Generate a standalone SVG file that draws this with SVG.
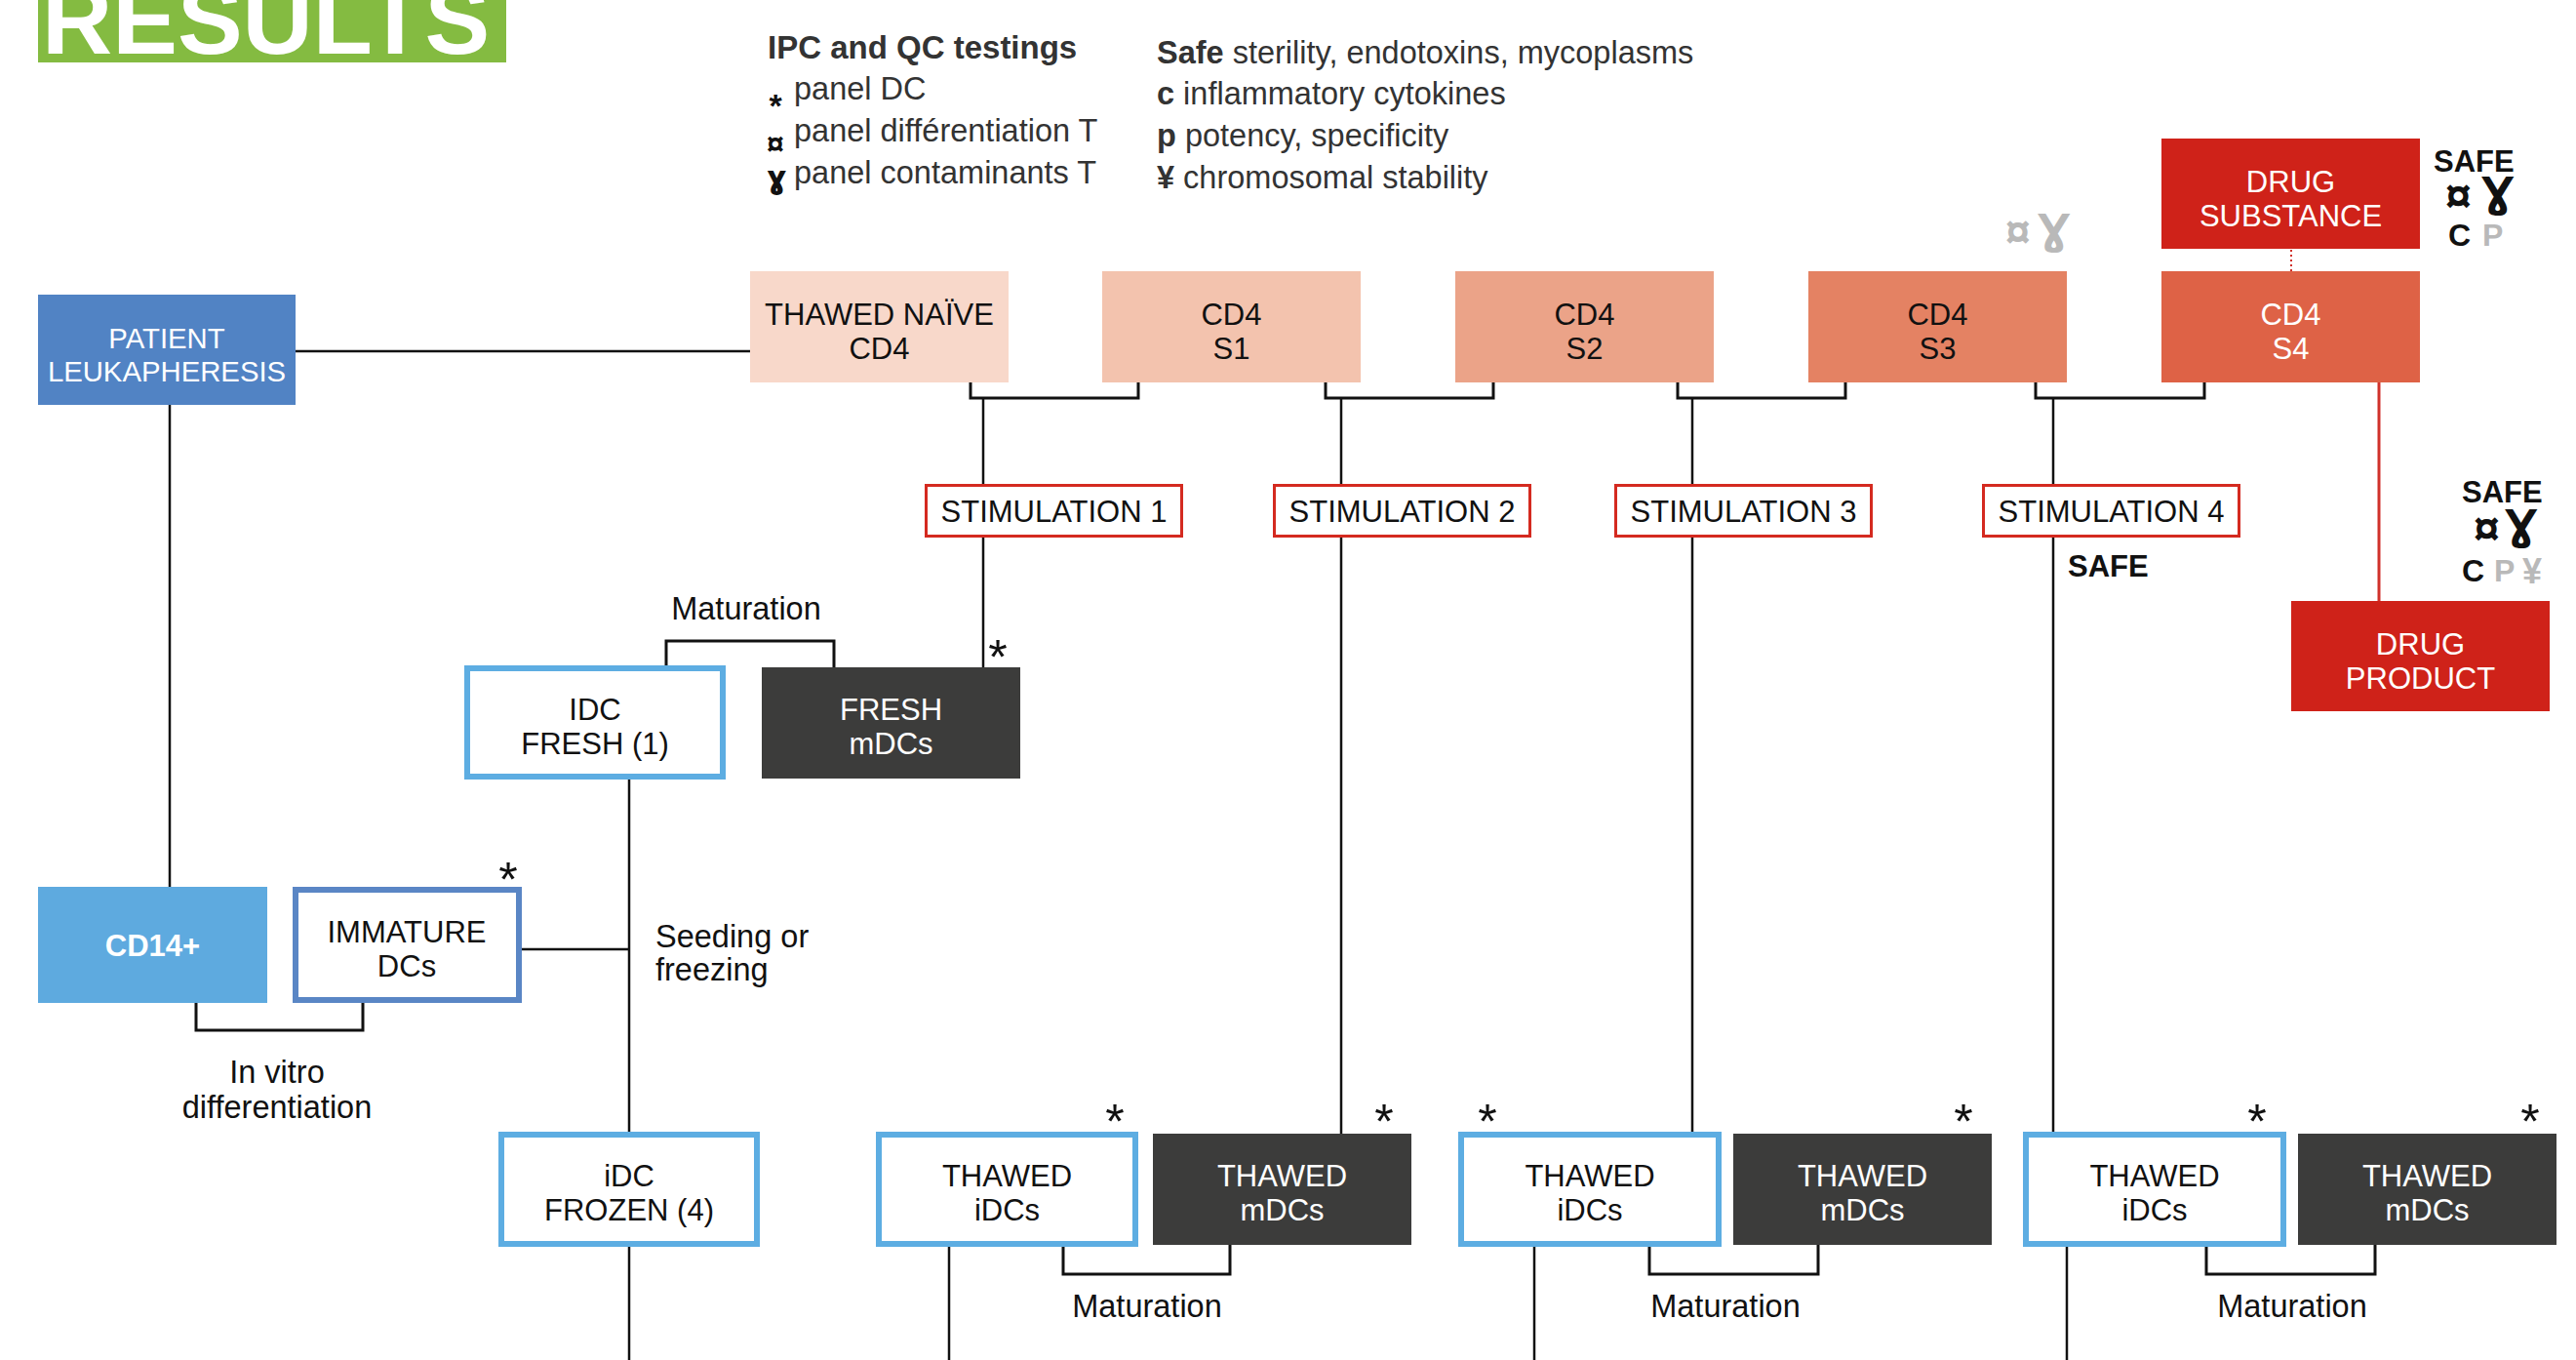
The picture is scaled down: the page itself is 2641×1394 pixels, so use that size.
<svg xmlns="http://www.w3.org/2000/svg" width="2641" height="1394" viewBox="0 0 2641 1394">
<style>
text{font-family:"Liberation Sans",Arial,Helvetica,sans-serif}
.t{font-size:31px;text-anchor:middle;fill:#111}
.w{fill:#fff}
.b{font-weight:bold}
.lg{font-size:32.5px;fill:#333}
.lab{font-size:32.5px;fill:#111}
.ml{font-size:32.5px;text-anchor:middle;fill:#111}
.ast{font-size:50px;text-anchor:middle;fill:#111}
.sym{font-family:"DejaVu Sans","Liberation Sans",sans-serif;font-weight:bold}
.gray{fill:#b9b9b9}
.blk{fill:#111}
.blue{fill:#fff;stroke:#5dade2;stroke-width:6}
.dark{fill:#3c3c3b}
.stim{fill:#fff;stroke:#d42a20;stroke-width:3}
.red{fill:#cf2219}
.ln{fill:none;stroke:#111;stroke-width:2.5}
.br{fill:none;stroke:#111;stroke-width:3}
</style>

<g id="title">
<rect x="39" y="0" width="480" height="64" fill="#84bb41"/>
<text x="43" y="55" font-size="100" font-weight="bold" fill="#fff">RESULTS</text>
</g>

<g id="legend">
<text x="787" y="60" class="lg b" style="font-size:33px">IPC and QC testings</text>
<text x="795" y="120" class="blk b" font-size="34" text-anchor="middle">*</text>
<text x="814" y="102" class="lg">panel DC</text>
<text x="786" y="158" class="blk b" font-size="32">¤</text>
<text x="814" y="145" class="lg">panel différentiation T</text>
<text x="786" y="193" class="blk sym" font-size="32">ɣ</text>
<text x="814" y="188" class="lg">panel contaminants T</text>
<text x="1186" y="65" class="lg"><tspan font-weight="bold">Safe</tspan> sterility, endotoxins, mycoplasms</text>
<text x="1186" y="107" class="lg"><tspan font-weight="bold">c</tspan> inflammatory cytokines</text>
<text x="1186" y="150" class="lg"><tspan font-weight="bold">p</tspan> potency, specificity</text>
<text x="1186" y="193" class="lg"><tspan font-weight="bold">¥</tspan> chromosomal stability</text>
</g>

<g id="connectors">
<path class="ln" d="M303,360 H769"/>
<path class="ln" d="M174,415 V909"/>
<path class="br" d="M995,392 V408 H1167 V392"/>
<path class="ln" d="M1008,408 V496 M1008,551 V686"/>
<path class="br" d="M1359,392 V408 H1531 V392"/>
<path class="ln" d="M1375,408 V496 M1375,551 V1162"/>
<path class="br" d="M1720,392 V408 H1892 V392"/>
<path class="ln" d="M1735,408 V496 M1735,551 V1160"/>
<path class="br" d="M2087,392 V408 H2260 V392"/>
<path class="ln" d="M2105,408 V496 M2105,551 V1160"/>
<path d="M2439,392 V616" fill="none" stroke="#d0312b" stroke-width="3"/>
<path d="M2349,256 V278" fill="none" stroke="#d0312b" stroke-width="2" stroke-dasharray="2,3"/>
<path class="br" d="M683,682 V657 H855 V684"/>
<path class="ln" d="M645,799 V1160"/>
<path class="ln" d="M534,973 H645"/>
<path class="br" d="M201,1028 V1056 H372 V1028"/>
<path class="ln" d="M645,1278 V1394"/>
<path class="ln" d="M973,1278 V1394"/>
<path class="ln" d="M1573,1278 V1394"/>
<path class="ln" d="M2119,1278 V1394"/>
<path class="br" d="M1090,1278 V1306 H1261 V1276"/>
<path class="br" d="M1691,1278 V1306 H1864 V1276"/>
<path class="br" d="M2262,1278 V1306 H2435 V1276"/>
</g>

<g id="labels">
<text x="765" y="635" class="ml">Maturation</text>
<text x="284" y="1110" class="ml">In vitro</text>
<text x="284" y="1146" class="ml">differentiation</text>
<text x="672" y="971" class="lab">Seeding or</text>
<text x="672" y="1005" class="lab">freezing</text>
<text x="1176" y="1350" class="ml">Maturation</text>
<text x="1769" y="1350" class="ml">Maturation</text>
<text x="2350" y="1350" class="ml">Maturation</text>
<text x="2120" y="591" class="lab b" style="font-size:31px">SAFE</text>
<text x="1023" y="691" class="ast">*</text>
<text x="521" y="919" class="ast">*</text>
<text x="1143" y="1167" class="ast">*</text>
<text x="1419" y="1167" class="ast">*</text>
<text x="1525" y="1167" class="ast">*</text>
<text x="2013" y="1167" class="ast">*</text>
<text x="2314" y="1167" class="ast">*</text>
<text x="2594" y="1167" class="ast">*</text>
</g>

<g id="qc-annotations">
<text x="2056" y="253" class="gray b" font-size="46">¤</text>
<text x="2089" y="250" class="gray sym" font-size="42">Ɣ</text>
<text x="2495" y="176" class="blk b" font-size="31">SAFE</text>
<text x="2507" y="217" class="blk b" font-size="48">¤</text>
<text x="2544" y="212" class="blk sym" font-size="42">Ɣ</text>
<text x="2510" y="252" class="blk b" font-size="32">C</text>
<text x="2545" y="252" class="gray b" font-size="32">P</text>
<text x="2524" y="515" class="blk b" font-size="31">SAFE</text>
<text x="2536" y="558" class="blk b" font-size="48">¤</text>
<text x="2568" y="553" class="blk sym" font-size="42">Ɣ</text>
<text x="2524" y="596" class="blk b" font-size="32">C</text>
<text x="2557" y="596" class="gray b" font-size="32">P</text>
<text x="2586" y="598" class="gray b" font-size="36">¥</text>
</g>

<g id="patient">
<rect x="39" y="302" width="264" height="113" fill="#5183c4"/>
<text x="171" y="357" class="t w" style="font-size:29.3px">PATIENT</text>
<text x="171" y="391" class="t w" style="font-size:29.3px">LEUKAPHERESIS</text>
</g>
<g id="thawed-naive-cd4">
<rect x="769" y="278" width="265" height="114" fill="#f8d8ca"/>
<text x="901.5" y="333" class="t">THAWED NAÏVE</text>
<text x="901.5" y="368" class="t">CD4</text>
</g>
<g id="cd4-s1">
<rect x="1130" y="278" width="265" height="114" fill="#f3c3ae"/>
<text x="1262.5" y="333" class="t">CD4</text>
<text x="1262.5" y="368" class="t">S1</text>
</g>
<g id="cd4-s2">
<rect x="1492" y="278" width="265" height="114" fill="#eba388"/>
<text x="1624.5" y="333" class="t">CD4</text>
<text x="1624.5" y="368" class="t">S2</text>
</g>
<g id="cd4-s3">
<rect x="1854" y="278" width="265" height="114" fill="#e48263"/>
<text x="1986.5" y="333" class="t">CD4</text>
<text x="1986.5" y="368" class="t">S3</text>
</g>
<g id="cd4-s4">
<rect x="2216" y="278" width="265" height="114" fill="#de6246"/>
<text x="2348.5" y="333" class="t w">CD4</text>
<text x="2348.5" y="368" class="t w">S4</text>
</g>
<g id="drug-substance">
<rect x="2216" y="142" width="265" height="113" class="red"/>
<text x="2348.5" y="197" class="t w">DRUG</text>
<text x="2348.5" y="232" class="t w">SUBSTANCE</text>
</g>
<g id="drug-product">
<rect x="2349" y="616" width="265" height="113" class="red"/>
<text x="2481.5" y="671" class="t w">DRUG</text>
<text x="2481.5" y="706" class="t w">PRODUCT</text>
</g>
<g id="stimulation-1">
<rect x="949.5" y="497.5" width="262" height="52" class="stim"/>
<text x="1080.5" y="535" class="t">STIMULATION 1</text>
</g>
<g id="stimulation-2">
<rect x="1306.5" y="497.5" width="262" height="52" class="stim"/>
<text x="1437.5" y="535" class="t">STIMULATION 2</text>
</g>
<g id="stimulation-3">
<rect x="1656.5" y="497.5" width="262" height="52" class="stim"/>
<text x="1787.5" y="535" class="t">STIMULATION 3</text>
</g>
<g id="stimulation-4">
<rect x="2033.5" y="497.5" width="262" height="52" class="stim"/>
<text x="2164.5" y="535" class="t">STIMULATION 4</text>
</g>
<g id="idc-fresh">
<rect x="479" y="685" width="262" height="111" class="blue"/>
<text x="610" y="738" class="t">IDC</text>
<text x="610" y="773" class="t">FRESH (1)</text>
</g>
<g id="fresh-mdcs">
<rect x="781" y="684" width="265" height="114" class="dark"/>
<text x="913.5" y="738" class="t w">FRESH</text>
<text x="913.5" y="773" class="t w">mDCs</text>
</g>
<g id="cd14">
<rect x="39" y="909" width="235" height="119" fill="#5eaadf"/>
<text x="156.5" y="980" class="t w b">CD14+</text>
</g>
<g id="immature-dcs">
<rect x="303" y="912" width="229" height="113" fill="#fff" stroke="#5a86c5" stroke-width="6"/>
<text x="417" y="966" class="t">IMMATURE</text>
<text x="417" y="1001" class="t">DCs</text>
</g>
<g id="idc-frozen">
<rect x="514" y="1163" width="262" height="112" class="blue"/>
<text x="645" y="1216" class="t">iDC</text>
<text x="645" y="1251" class="t">FROZEN (4)</text>
</g>
<g id="thawed-idcs-1">
<rect x="901" y="1163" width="263" height="112" class="blue"/>
<text x="1032.5" y="1216" class="t">THAWED</text>
<text x="1032.5" y="1251" class="t">iDCs</text>
</g>
<g id="thawed-mdcs-1">
<rect x="1182" y="1162" width="265" height="114" class="dark"/>
<text x="1314.5" y="1216" class="t w">THAWED</text>
<text x="1314.5" y="1251" class="t w">mDCs</text>
</g>
<g id="thawed-idcs-2">
<rect x="1498" y="1163" width="264" height="112" class="blue"/>
<text x="1630" y="1216" class="t">THAWED</text>
<text x="1630" y="1251" class="t">iDCs</text>
</g>
<g id="thawed-mdcs-2">
<rect x="1777" y="1162" width="265" height="114" class="dark"/>
<text x="1909.5" y="1216" class="t w">THAWED</text>
<text x="1909.5" y="1251" class="t w">mDCs</text>
</g>
<g id="thawed-idcs-3">
<rect x="2077" y="1163" width="264" height="112" class="blue"/>
<text x="2209" y="1216" class="t">THAWED</text>
<text x="2209" y="1251" class="t">iDCs</text>
</g>
<g id="thawed-mdcs-3">
<rect x="2356" y="1162" width="265" height="114" class="dark"/>
<text x="2488.5" y="1216" class="t w">THAWED</text>
<text x="2488.5" y="1251" class="t w">mDCs</text>
</g>
</svg>
